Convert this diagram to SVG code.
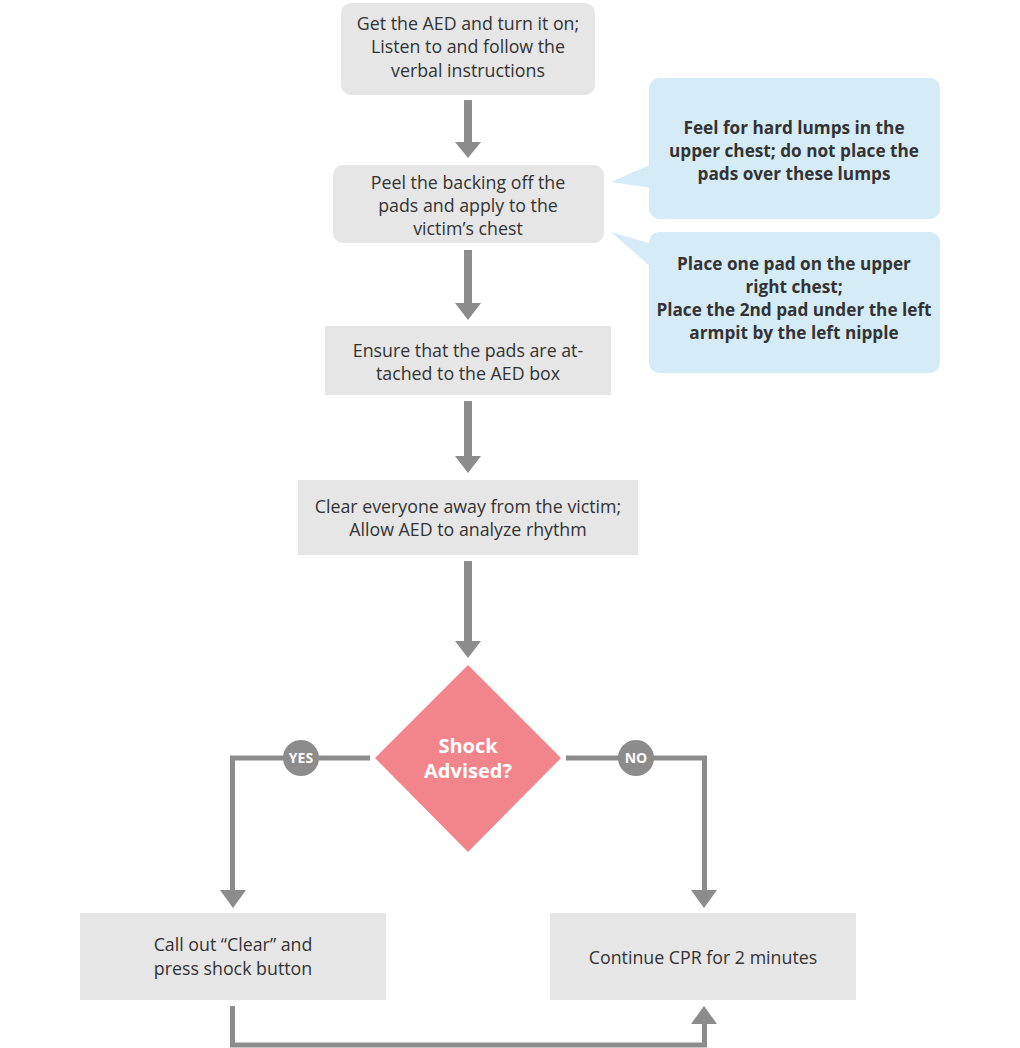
<svg xmlns="http://www.w3.org/2000/svg" width="1020" height="1048" viewBox="0 0 1020 1048">
<style>
.box{fill:#e6e6e6}
.note{fill:#d5ecf7}
.t{font-family:"Open Sans","Liberation Sans",sans-serif;font-size:17.8px;fill:#333;text-anchor:middle}
.b{font-weight:bold;font-size:17.2px}
.w{fill:#fff;font-weight:bold}
.sh{stroke:#8c8c8c;stroke-width:8;fill:none}
.ln{stroke:#8c8c8c;stroke-width:5;fill:none}
.hd{fill:#8c8c8c}
</style>
<rect width="1020" height="1048" fill="#fff"/>
<g id="connectors">
<line class="sh" x1="468" y1="100" x2="468" y2="143"/>
<polygon class="hd" points="455,142 481,142 468,158"/>
<line class="sh" x1="468" y1="250" x2="468" y2="304"/>
<polygon class="hd" points="455,303 481,303 468,320"/>
<line class="sh" x1="468" y1="401" x2="468" y2="457"/>
<polygon class="hd" points="455,456 481,456 468,473"/>
<line class="sh" x1="468" y1="561" x2="468" y2="642"/>
<polygon class="hd" points="455,641 481,641 468,658"/>
<polyline class="ln" points="370,758 232.5,758 232.5,892"/>
<polygon class="hd" points="220,890 246,890 233,908"/>
<polyline class="ln" points="566,758 704.5,758 704.5,892"/>
<polygon class="hd" points="691,890 717,890 704,908"/>
<polyline class="ln" points="232.5,1006 232.5,1045 704.5,1045 704.5,1022"/>
<polygon class="hd" points="691,1024 717,1024 704,1006"/>
<circle cx="301" cy="758" r="18" fill="#8c8c8c"/>
<text class="t w" x="301" y="763" style="font-size:14px">YES</text>
<circle cx="636" cy="758" r="18" fill="#8c8c8c"/>
<text class="t w" x="636" y="763" style="font-size:14px">NO</text>
</g>
<g id="n1">
<rect class="box" x="341" y="3" width="254" height="92" rx="10"/>
<text class="t" x="468" y="30">Get the AED and turn it on;</text>
<text class="t" x="468" y="53">Listen to and follow the</text>
<text class="t" x="468" y="77">verbal instructions</text>
</g>
<g id="n2">
<rect class="box" x="333" y="165" width="271" height="78" rx="10"/>
<text class="t" x="468" y="189">Peel the backing off the</text>
<text class="t" x="468" y="212">pads and apply to the</text>
<text class="t" x="468" y="235">victim’s chest</text>
</g>
<g id="c1">
<polygon class="note" points="611,182 652,164 652,188"/>
<rect class="note" x="649" y="78" width="291" height="141" rx="10"/>
<text class="t b" x="794" y="134">Feel for hard lumps in the</text>
<text class="t b" x="794" y="157">upper chest; do not place the</text>
<text class="t b" x="794" y="180">pads over these lumps</text>
</g>
<g id="c2">
<polygon class="note" points="611,232 652,244 652,268"/>
<rect class="note" x="649" y="232" width="291" height="141" rx="10"/>
<text class="t b" x="794" y="270">Place one pad on the upper</text>
<text class="t b" x="794" y="293">right chest;</text>
<text class="t b" x="794" y="316">Place the 2nd pad under the left</text>
<text class="t b" x="794" y="339">armpit by the left nipple</text>
</g>
<g id="n3">
<rect class="box" x="325" y="326" width="286" height="69"/>
<text class="t" x="468" y="357">Ensure that the pads are at-</text>
<text class="t" x="468" y="380">tached to the AED box</text>
</g>
<g id="n4">
<rect class="box" x="298" y="480" width="340" height="75"/>
<text class="t" x="468" y="513">Clear everyone away from the victim;</text>
<text class="t" x="468" y="536">Allow AED to analyze rhythm</text>
</g>
<g id="d1">
<polygon points="468,665 561,758 468,852 375,758" fill="#f2848b"/>
<text class="t w" x="468" y="753" style="font-size:20px">Shock</text>
<text class="t w" x="468" y="778" style="font-size:20px">Advised?</text>
</g>
<g id="n5">
<rect class="box" x="80" y="913" width="306" height="87"/>
<text class="t" x="233" y="951">Call out “Clear” and</text>
<text class="t" x="233" y="975">press shock button</text>
</g>
<g id="n6">
<rect class="box" x="550" y="913" width="306" height="87"/>
<text class="t" x="703" y="964">Continue CPR for 2 minutes</text>
</g>
</svg>
